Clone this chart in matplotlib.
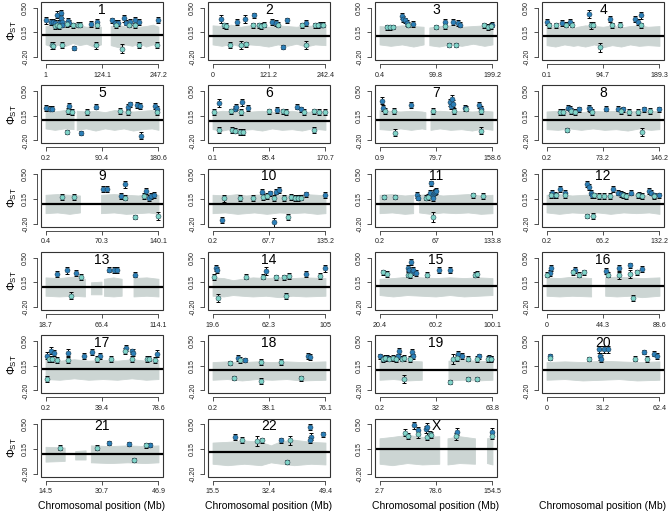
import matplotlib
matplotlib.use('Agg')
import matplotlib.pyplot as plt
from matplotlib.patches import Rectangle

plt.rcParams['font.family'] = ['Liberation Sans', 'DejaVu Sans']
plt.rcParams['mathtext.fontset'] = 'custom'
plt.rcParams['mathtext.rm'] = 'Liberation Sans'

# chromosomes and their tick positions (Mb)
chroms = ['1', '2', '3', '4', '5', '6', '7', '8', '9', '10', '11', '12',
          '13', '14', '15', '16', '17', '18', '19', '20', '21', '22', 'X']
x_lo = [1, 0, 0.4, 0.1, 0.2, 0.1, 0.9, 0.2, 0.4, 0.2, 0.2, 0.2,
        18.7, 19.6, 20.4, 0, 0.2, 0.2, 0.2, 0, 14.5, 15.5, 2.7]
x_mid = [124.1, 121.2, 99.8, 94.7, 90.4, 85.4, 79.7, 73.2, 70.3, 67.7, 67, 66.2,
         66.4, 62.3, 60.2, 44.3, 39.4, 38.1, 32, 31.2, 30.7, 32.4, 78.6]
x_hi = [247.2, 242.4, 199.2, 189.3, 180.6, 170.7, 158.6, 146.2, 140.1, 135.2, 133.8, 132.2,
        114.1, 105, 100.1, 88.6, 78.6, 76.1, 63.8, 62.4, 46.9, 49.4, 154.5]

# genome-wide mean line per chromosome
mean_line = [0.11, 0.105, 0.105, 0.105, 0.085, 0.08, 0.085, 0.085, 0.08, 0.08, 0.08, 0.08,
             0.085, 0.09, 0.10, 0.10, 0.10, 0.085, 0.095, 0.095, 0.077, 0.107, 0.145]

# grey cloud of all windows: (position, low, high), None = gap
grey_band = {
    '1': [(1, -.02, .24), (15, -.05, .26), (30, -.02, .27), (45, -.04, .24), (60, 0, .22), (75, -.03, .25),
          (90, -.01, .23), (105, -.05, .24), (122, -.02, .23), None, (143, -.03, .24), (160, -.06, .26),
          (175, -.02, .23), (190, -.04, .25), (205, 0, .23), (220, -.05, .24), (235, -.02, .26), (247.2, -.03, .23)],
    '2': [(0, -.02, .25), (20, -.04, .24), (40, -.01, .26), (60, -.05, .23), (80, -.02, .25), (100, -.03, .24),
          (120, -.05, .23), (140, -.02, .25), (160, -.04, .24), (180, -.01, .23), (200, -.05, .25),
          (220, -.02, .24), (242.4, -.03, .25)],
    '3': [(0.4, -.02, .24), (20, -.04, .23), (40, -.02, .25), (60, -.05, .24), (78, -.02, .23), None,
          (88, -.03, .22), (105, -.05, .24), (125, -.02, .25), (145, -.04, .23), (165, -.01, .24),
          (185, -.04, .25), (199.2, -.02, .24)],
    '4': [(0.1, -.03, .24), (15, -.05, .23), (30, -.02, .22), (45, -.04, .21), (52, -.03, .23), (65, -.05, .25),
          (80, -.02, .24), (95, -.06, .23), (110, -.03, .25), (125, -.05, .22), (140, -.02, .24),
          (155, -.04, .25), (170, -.03, .23), (189.3, -.04, .24)],
    '5': [(0.2, -.03, .22), (15, -.05, .21), (30, -.03, .23), (45, -.04, .2), None, (50, -.05, .22),
          (65, -.03, .21), (80, -.06, .22), (95, -.03, .20), (110, -.05, .23), (125, -.03, .22),
          (140, -.06, .21), (155, -.04, .22), (170, -.03, .23), (180.6, -.05, .21)],
    '6': [(0.1, -.04, .2), (15, -.06, .22), (30, -.03, .21), (45, -.05, .20), (60, -.04, .21), (75, -.06, .22),
          (90, -.03, .20), (105, -.05, .21), (120, -.04, .22), (135, -.06, .20), (150, -.03, .21), (170.7, -.05, .22)],
    '7': [(0.9, -.04, .23), (15, -.05, .22), (30, -.03, .21), (45, -.05, .22), (60, -.03, .21), (65, -.04, .2),
          None, (72, -.05, .21), (85, -.03, .22), (100, -.05, .21), (115, -.04, .22), (130, -.06, .21),
          (145, -.03, .22), (158.6, -.05, .21)],
    '8': [(0.2, -.04, .21), (15, -.05, .22), (30, -.03, .21), (45, -.05, .20), (60, -.03, .22), (75, -.05, .21),
          (90, -.04, .22), (105, -.06, .21), (120, -.03, .22), (135, -.05, .21), (146.2, -.04, .22)],
    '9': [(0.4, -.05, .21), (15, -.04, .22), (30, -.06, .21), (43, -.04, .2), None, (69, -.05, .21),
          (85, -.04, .22), (100, -.06, .21), (115, -.05, .2), (128, -.04, .22), (140.1, -.06, .21)],
    '10': [(0.2, -.05, .21), (15, -.04, .2), (30, -.06, .22), (40, -.05, .2), (50, -.04, .21), (65, -.06, .22),
           (80, -.04, .21), (95, -.05, .2), (110, -.04, .22), (125, -.06, .21), (135.2, -.05, .2)],
    '11': [(0.2, -.05, .21), (15, -.04, .22), (30, -.06, .2), (40, -.05, .21), None, (47, -.04, .21),
           (60, -.06, .22), (75, -.04, .2), (90, -.05, .21), (105, -.04, .22), (120, -.06, .2), (133.8, -.05, .21)],
    '12': [(0.2, -.04, .21), (15, -.06, .22), (30, -.04, .2), (45, -.05, .21), (60, -.04, .22), (75, -.06, .2),
           (90, -.04, .21), (105, -.05, .22), (120, -.04, .2), (132.2, -.06, .21)],
    '13': [(18.7, -.04, .22), (30, -.05, .21), (42, -.04, .23), (52, -.05, .2), None, (57, -.02, .15),
           (66, -.02, .16), None, (68, -.04, .2), (76, -.05, .22), (83, -.04, .2), None, (93, -.05, .21),
           (104, -.04, .22), (114.1, -.05, .2)],
    '14': [(19.6, -.04, .22), (28, -.05, .21), (35, -.03, .18), (42, -.04, .2), (50, -.05, .22), (60, -.04, .21),
           (70, -.06, .22), (80, -.04, .21), (90, -.05, .22), (105, -.04, .21)],
    '15': [(20.4, -.03, .2), (30, -.05, .21), (40, -.03, .23), (50, -.04, .22), (60, -.05, .21), (70, -.03, .22),
           (80, -.05, .21), (90, -.04, .22), (100.1, -.03, .21)],
    '16': [(0, -.04, .22), (10, -.05, .21), (20, -.04, .23), (35, -.05, .21), None, (46, -.04, .22),
           (55, -.05, .23), (65, -.04, .22), (75, -.06, .21), (88.6, -.04, .22)],
    '17': [(0.2, -.04, .23), (10, -.05, .22), (20, -.03, .24), (30, -.05, .22), (40, -.04, .23), (50, -.05, .22),
           (60, -.03, .24), (70, -.05, .22), (78.6, -.04, .23)],
    '18': [(0.2, -.05, .2), (10, -.04, .21), (20, -.06, .2), (30, -.04, .21), (40, -.05, .2), (50, -.04, .21),
           (60, -.06, .2), (76.1, -.05, .21)],
    '19': [(0.2, -.05, .22), (8, -.04, .23), (16, -.06, .22), (24, -.05, .21), None, (39, -.06, .22),
           (47, -.05, .23), (55, -.06, .22), (63.8, -.05, .21)],
    '20': [(0, -.05, .2), (10, -.04, .21), (20, -.06, .2), (30, -.05, .22), (40, -.04, .21), (50, -.06, .2),
           (62.4, -.05, .21)],
    '21': [(14.5, -.03, .18), (20, -.02, .17), None, (23, 0, .12), (26, 0, .13), None, (27.5, -.04, .2),
           (33, -.05, .19), (38, -.04, .2), (43, -.05, .19), (46.9, -.04, .2)],
    '22': [(15.5, -.06, .24), (20, -.08, .25), (25, -.06, .27), (30, -.08, .25), (33, -.04, .2), (36, -.06, .26),
           (40, -.08, .28), (45, -.06, .25), (49.4, -.07, .24)],
    'X': [(2.7, -.06, .3), (20, -.08, .32), (40, -.05, .35), (60, -.07, .32), (83, -.06, .33), None,
          (94, -.07, .3), (110, -.05, .33), (131, -.06, .3), None, (147, -.05, .3), (154.5, -.07, .32)],
}

# outlier windows: (position, phi_st, half error bar)
dark_pts = {
    '1': [(1, .32, .05), (12, .30, .04), (17, .30, .04), (22, .29, .04), (26, .40, .05), (30, .28, .04),
          (34, .42, .05), (35, .35, .05), (36, .30, .05), (38, .26, .04), (50, .31, .04), (53, .28, .04),
          (62, -.07, .03), (101, .27, .04), (113, .30, .04), (145, .32, .04), (152, .28, .04), (160, .28, .04),
          (172, .35, .05), (176, .29, .04), (185, .30, .04), (197, .33, .04), (205, .30, .04), (247, .33, .04)],
    '2': [(19, .34, .05), (53, .30, .04), (70, .34, .05), (89, .39, .04), (127, .30, .04), (136, .28, .04),
          (152, -.06, .03), (159, .32, .04), (201, .28, .04), (230, .26, .04)],
    '3': [(39.5, .38, .04), (42, .34, .04), (46, .32, .04), (49, .28, .04), (60, .27, .04), (115, .30, .04),
          (130, .30, .04), (139, .28, .04), (142, .26, .04), (199, .26, .04)],
    '4': [(1.4, .30, .04), (26, .28, .04), (39, .30, .04), (72, .41, .05), (106, .34, .04), (148, .34, .04),
          (153, .30, .04), (159, .39, .05)],
    '5': [(0.2, .255, .04), (7.5, .25, .04), (10.6, .25, .04), (38, .29, .04), (57, -.09, .03), (81, .28, .04),
          (132, .27, .04), (135, .31, .04), (147, .30, .04), (151, .29, .04), (152, -.13, .05), (175, .29, .04),
          (178, .25, .04)],
    '6': [(10.5, .33, .05), (34, .25, .04), (36, .27, .04), (45, .34, .05), (53, .26, .04), (97, .23, .04),
          (128, .28, .04), (133, .24, .04)],
    '7': [(5, .36, .05), (6, .255, .04), (45, .30, .04), (99, .34, .05), (100, .29, .05), (101.4, .39, .05),
          (103, .32, .05), (120, .26, .04), (139.8, .30, .04), (143, .25, .04)],
    '8': [(28, .265, .04), (30, .25, .04), (42, .24, .04), (55, .26, .04), (57, .24, .04), (77, .25, .04),
          (92, .25, .04), (99, .24, .04), (126, .24, .04), (146, .24, .04)],
    '9': [(72, .29, .04), (77, .29, .04), (94, .19, .04), (99, .36, .05), (125, .26, .04), (128, .16, .04),
          (131, .19, .04), (134, .21, .04)],
    '10': [(11.6, -.15, .04), (59, .255, .04), (69, .23, .04), (74, -.18, .06), (76, .255, .04), (80, .275, .04),
           (112, .215, .04), (135, .21, .04)],
    '11': [(45, .21, .04), (46, .17, .04), (60, .24, .04), (61, .37, .04), (63, .20, .04), (64, .17, .05),
           (65, .24, .04), (66, .25, .04), (67, .26, .04)],
    '12': [(7, .24, .04), (10, .21, .04), (16, .29, .04), (22, .24, .04), (47, .36, .04), (50, .32, .04),
           (52, .24, .04), (53, .20, .04), (78, .29, .04), (84, .24, .04), (87, .22, .04), (99, .24, .04),
           (108, .21, .04), (120, .26, .04), (122, .24, .04), (126, .20, .04), (132.2, .20, .04)],
    '13': [(28.4, .27, .04), (36.5, .32, .05), (44.6, .28, .04), (72.7, .33, .04), (76.9, .32, .04),
           (79, .32, .04), (94, .26, .04)],
    '14': [(22.5, .35, .04), (23, .32, .04), (60, .31, .05), (90, .27, .04), (105, .35, .05)],
    '15': [(40.7, .35, .04), (41.5, .32, .04), (42.6, .44, .04), (43.4, .30, .04), (44.2, .33, .04),
           (46, .28, .04), (62.3, .32, .04), (70.4, .32, .04)],
    '16': [(2.4, .28, .04), (3.9, .35, .04), (22.5, .32, .04), (47, .31, .04), (56.5, .35, .04),
           (65.5, .39, .04), (74.5, .34, .04)],
    '17': [(1.5, .29, .05), (4.2, .36, .05), (6, .33, .04), (16, .33, .05), (26.8, .29, .04), (32.6, .34, .04),
           (38, .29, .04), (56, .40, .04), (60, .35, .04), (60.7, .33, .05), (77.8, .32, .05)],
    '18': [(17.4, .26, .04), (22, .23, .03), (64.5, .29, .04), (65.8, .27, .04)],
    '19': [(0.6, .28, .04), (1.9, .25, .04), (4.5, .26, .04), (10.5, .28, .04), (11.4, .36, .04), (18.5, .34, .04),
           (19.2, .28, .04), (44.4, .32, .04), (46.6, .29, .04), (56.3, .28, .04), (61.6, .26, .04), (62.7, .25, .04)],
    '20': [(1.7, .29, .03), (29.2, .38, .05), (29.6, .28, .05), (30, .25, .05), (32, .38, .05), (33.8, .38, .05),
           (54, .34, .03), (59.2, .32, .04), (61, .29, .04)],
    '21': [(32.6, .235, .03), (38.4, .22, .03), (44.4, .21, .03)],
    '22': [(22.2, .32, .04), (36.2, .27, .03), (44.8, .46, .04), (45.1, .32, .05), (44.8, .28, .04), (48.8, .355, .04)],
    'X': [(49.3, .486, .05), (54.9, .415, .05), (65.3, .425, .05), (66, .46, .05), (107, .39, .05), (153.7, .39, .05)],
}

light_pts = {
    '1': [(15, -.03, .05), (17, -.04, .05), (22, .24, .04), (27, .25, .04), (31, .24, .04), (38, -.03, .04),
          (47, .27, .04), (60, .25, .04), (72, .26, .04), (76, .26, .04), (111, -.03, .05), (114, .25, .04),
          (155, .25, .04), (168, -.08, .06), (183, .26, .04), (197, .25, .04), (205, -.03, .04), (243, -.03, .04)],
    '2': [(25, .25, .04), (29, .24, .04), (37, -.03, .04), (62, -.03, .06), (72, -.02, .04), (86, .25, .04),
          (99, .25, .04), (103, .24, .04), (111, .26, .04), (140, .26, .04), (191, .25, .04), (201, -.03, .06),
          (220, .25, .04), (226, .25, .04), (234, .26, .04), (238, .26, .04)],
    '3': [(14, .22, .03), (19, .22, .03), (25, .23, .03), (51, .26, .04), (100, .23, .03), (115, .24, .04),
          (122, -.03, .03), (135, -.03, .03), (185, .25, .04), (192, .23, .04), (196, .24, .04)],
    '4': [(5, .25, .04), (16, .25, .04), (32, .26, .04), (42, .26, .04), (74, .25, .05), (78, .26, .04),
          (89, -.06, .06), (109, .25, .04), (123, .26, .04), (159, .25, .04)],
    '5': [(35, -.08, .03), (35.5, .22, .04), (41.7, .20, .04), (67, .20, .04), (119, .22, .04), (132, .20, .04),
          (178, .20, .04)],
    '6': [(3, .20, .04), (10.5, -.05, .04), (28, .21, .04), (29, -.05, .04), (34, -.06, .04), (42, -.08, .04),
          (43, .20, .04), (46, -.08, .04), (85, .21, .04), (107, .21, .04), (111, .20, .04), (138, .20, .04),
          (153, -.05, .04), (153, .21, .04), (161, .20, .04), (170.7, .20, .04)],
    '7': [(9, .22, .04), (21, .22, .04), (23, -.09, .05), (75, .22, .04), (105, .22, .04), (121.5, .25, .04),
          (143, .22, .04), (143, -.06, .05)],
    '8': [(17, .20, .04), (22, .20, .04), (27, -.05, .03), (32, .22, .04), (37, .20, .04), (59, .20, .04),
          (97, .22, .04), (107, .20, .04), (119, .20, .04), (124, -.08, .05), (134, .22, .04)],
    '9': [(21, .18, .04), (35.5, .18, .04), (99, .17, .04), (111, -.10, .03), (122, .19, .04), (139, -.09, .05)],
    '10': [(14, .16, .05), (33, .16, .04), (48, .16, .04), (60, .18, .04), (65, .19, .04), (74, .16, .04),
           (86, .16, .04), (91, -.10, .04), (94, .18, .04), (99, .16, .04), (102, .16, .04), (106, .17, .04)],
    '11': [(5.6, .18, .03), (18, .18, .03), (55, .17, .04), (58, .18, .04), (64, -.10, .07), (111, .20, .04),
           (123, .19, .04)],
    '12': [(5, .21, .04), (11, .20, .04), (22, .21, .04), (47, -.09, .03), (54, -.09, .04), (56, .20, .04),
           (62, .19, .04), (67, .19, .04), (74, .19, .04), (89, .21, .04), (93, .19, .04), (107, .20, .04),
           (112, .19, .04), (126, .19, .04)],
    '13': [(48.5, .225, .04), (40.4, -.04, .05)],
    '14': [(21, .225, .04), (24, -.07, .06), (45, .23, .04), (57.5, .23, .04), (67.4, .22, .04), (74, .22, .04),
           (75, -.04, .04), (77.5, .24, .04), (100.6, .24, .04)],
    '15': [(23, .29, .04), (25.8, .27, .04), (40.7, .26, .04), (42, .25, .04), (53.6, .26, .04), (88, .26, .04),
           (89.3, .27, .04)],
    '16': [(0.6, .26, .04), (20.4, .29, .04), (25.5, .26, .04), (29.4, .29, .04), (48, .26, .04),
           (56.5, .25, .05), (65.5, .27, .06), (67.6, -.07, .04), (70.6, .29, .04)],
    '17': [(1.5, -.04, .04), (2.3, .24, .04), (4.9, .24, .04), (8, .23, .04), (16, .23, .04), (36, .24, .04),
           (45.9, .24, .04), (55.5, .36, .04), (60, .24, .04), (70.6, .24, .04), (72, .25, .04), (76, .23, .04)],
    '18': [(12, .185, .03), (14.9, -.03, .03), (18.5, .23, .04), (33.1, .20, .04), (33.1, -.07, .04),
           (46.5, .20, .04), (59.4, -.03, .04)],
    '19': [(2.4, .24, .04), (3.4, .26, .04), (5.6, .25, .04), (7.7, .26, .04), (9.3, .24, .04), (12.7, .25, .04),
           (14.2, .26, .04), (17.4, .24, .04), (14.2, -.04, .06), (40.1, -.08, .03), (41.6, .24, .07),
           (43.7, .26, .04), (49.8, -.04, .03), (49.8, .25, .04), (55.2, -.04, .03), (55.2, .24, .04),
           (61, .24, .04), (62.7, .24, .04)],
    '20': [(1.7, .26, .03), (23.3, .24, .03), (49, .25, .03), (55.4, .24, .04)],
    '21': [(18.7, .17, .04), (29.3, .17, .04), (39.8, -.01, .03), (43.3, .20, .03)],
    '22': [(24.3, .28, .04), (28.9, .26, .07), (30.2, .27, .04), (37.9, -.03, .03), (38.7, .27, .06)],
    'X': [(37.2, .377, .05), (40.8, .33, .04), (54.9, .36, .06), (66, .32, .05), (70.2, .36, .04),
          (72.2, .345, .04), (105.5, .33, .05), (154.5, .33, .04)],
}

dark_col = '#2b7fb8'
light_col = '#80d4c8'
grey_col = '#ccd5d3'

W, H = 669, 518
fig = plt.figure(figsize=(W / 100, H / 100), dpi=100)


def draw_points(ax, pts, colour):
    if not pts:
        return
    xs = [p[0] for p in pts]
    ys = [p[1] for p in pts]
    es = [p[2] for p in pts]
    ax.errorbar(xs, ys, yerr=es, fmt='none', ecolor='black', elinewidth=0.7,
                capsize=1.3, capthick=0.7, zorder=4)
    ax.plot(xs, ys, 'o', ms=3.6, mfc=colour, mec='#1c3442', mew=0.35, zorder=5)


for i, ch in enumerate(chroms):
    r, c = divmod(i, 4)
    left = 41 + c * 167
    top = 2 + r * 83.3
    w, h = 122, 58
    ax = fig.add_axes([left / W, 1 - (top + h) / H, w / W, h / H])

    # R-style detached axes (set before the ticks, it resets them)
    for s in ['top', 'right']:
        ax.spines[s].set_visible(False)
    ax.spines['left'].set_position(('outward', 3))
    ax.spines['bottom'].set_position(('outward', 3))

    # grey background windows
    seg = []
    for k in grey_band[ch] + [None]:
        if k is None:
            if seg:
                ax.fill_between([s[0] for s in seg], [s[1] for s in seg], [s[2] for s in seg],
                                color=grey_col, lw=0.6, edgecolor=grey_col, zorder=1)
            seg = []
        else:
            seg.append(k)

    ax.axhline(mean_line[i], color='black', lw=1.6, zorder=3)
    draw_points(ax, dark_pts[ch], dark_col)
    draw_points(ax, light_pts[ch], light_col)

    rng = x_hi[i] - x_lo[i]
    ax.set_xlim(x_lo[i] - 0.04 * rng, x_hi[i] + 0.04 * rng)
    ax.set_ylim(-0.24, 0.58)
    ax.set_xticks([x_lo[i], x_mid[i], x_hi[i]])
    ax.set_xticklabels([f'{v:g}' for v in (x_lo[i], x_mid[i], x_hi[i])], fontsize=5.1)
    ax.set_yticks([-0.2, 0.15, 0.5])
    ax.set_yticklabels(['-0.20', '0.15', '0.50'], rotation=90, va='center', fontsize=5.1)
    ax.tick_params(length=3, width=0.6, pad=2.5, colors='#333333')
    for lab in ax.get_xticklabels() + ax.get_yticklabels():
        lab.set_color('#222222')

    ax.spines['left'].set_bounds(-0.2, 0.5)
    ax.spines['bottom'].set_bounds(x_lo[i], x_hi[i])
    for s in ['left', 'bottom']:
        ax.spines[s].set_linewidth(0.6)
        ax.spines[s].set_color('#333333')
    ax.add_patch(Rectangle((0, 0), 1, 1, transform=ax.transAxes, fill=False,
                           lw=0.8, edgecolor='#333333', zorder=6, clip_on=False))

    ax.text(0.5, 0.985, ch, transform=ax.transAxes, ha='center', va='top', fontsize=10, zorder=7)

    if c == 0:
        fig.text(12 / W, 1 - (top + h / 2) / H, r'$\mathrm{\Phi}_{\mathrm{ST}}$',
                 rotation=90, ha='center', va='center', fontsize=8)

for c in range(4):
    fig.text((41 + 61 + c * 167) / W, 1 - 506 / H, 'Chromosomal position (Mb)',
             ha='center', va='center', fontsize=7.5)

fig.savefig('out.png', dpi=100)
